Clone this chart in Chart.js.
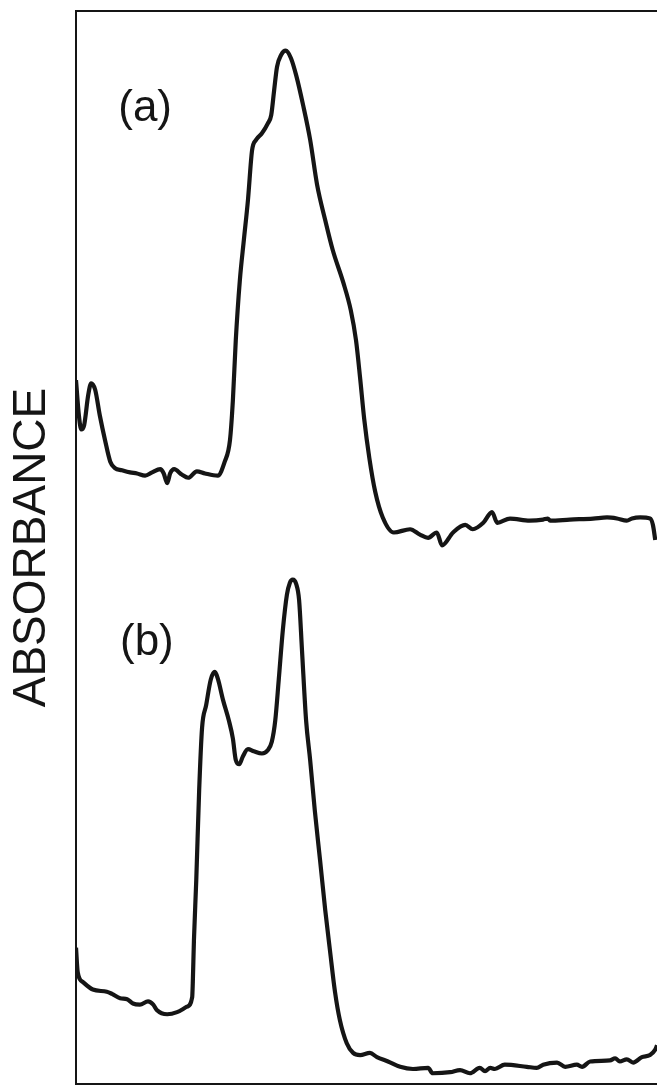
<!DOCTYPE html>
<html>
<head>
<meta charset="utf-8">
<script src="https://cdn.jsdelivr.net/npm/chart.js@4.4.1/dist/chart.umd.min.js"></script>
<style>
  html, body { margin: 0; padding: 0; background: #fff; }
  #wrap { width: 657px; height: 1086px; position: relative; }
</style>
</head>
<body>
<div id="wrap"><canvas id="chart"></canvas></div>
<script>
// =========================
// データ（横軸: 0〜100 の相対位置, 縦軸: 0〜100 の相対吸光度）
// =========================
const yTitle = "ABSORBANCE";
const panelLabels = ["(a)", "(b)"];

// (a) の曲線
const xA = [0, 0.5, 0.9, 1.4, 2.1, 2.6, 3.3, 4.1, 5.0, 5.9, 6.7, 7.9, 9.3, 10.5, 11.9, 13.1, 14.5, 15.1, 15.7, 16.2,
  16.9, 18.2, 19.3, 20.8, 22.2, 24.4, 25.6, 26.5, 27.0, 27.5, 28.2, 28.9, 29.6, 30.3, 31.0, 32.0, 33.0, 33.6, 34.1, 34.6,
  35.3, 36.1, 37.0, 37.9, 39.1, 40.3, 41.5, 42.9, 44.2, 46.0, 47.3, 48.2, 48.9, 49.6, 50.5, 51.5, 52.8, 54.7, 57.5, 59.2,
  60.6, 62.1, 63.0, 64.9, 67.0, 68.3, 70.1, 71.6, 72.5, 74.7, 78.1, 80.4, 81.2, 81.6, 85.0, 89.0, 91.4, 93.1, 94.8, 95.7,
  97.1, 98.8, 99.3, 99.7];
const yA = [65.6, 62.3, 61.0, 61.4, 64.2, 65.3, 64.7, 62.3, 60.0, 58.0, 57.4, 57.2, 57.0, 56.9, 56.7, 57.0, 57.3, 56.9, 56.0, 56.9,
  57.3, 56.8, 56.5, 57.1, 56.9, 56.7, 58.0, 60.0, 63.7, 69.3, 74.9, 78.7, 82.4, 87.0, 88.0, 88.6, 89.5, 90.3, 92.6, 94.8,
  95.9, 96.3, 95.6, 94.0, 91.2, 88.0, 83.8, 80.5, 77.7, 74.7, 72.1, 69.3, 65.8, 62.0, 58.3, 55.2, 52.8, 51.4, 51.7, 51.2,
  50.9, 51.4, 50.2, 51.4, 52.1, 51.7, 52.3, 53.3, 52.3, 52.7, 52.5, 52.6, 52.7, 52.5, 52.6, 52.7, 52.8, 52.7, 52.5, 52.7,
  52.8, 52.7, 52.1, 50.7];

// (b) の曲線
const xB = [0, 0.3, 1.2, 2.9, 5.3, 6.2, 7.6, 8.8, 9.8, 11.0, 12.4, 13.3, 13.9, 15.7, 17.4, 19.1, 20.0, 20.1, 20.3, 20.7,
  21.2, 21.7, 22.4, 23.2, 23.9, 24.4, 25.3, 26.3, 27.0, 27.5, 28.1, 28.7, 29.6, 30.6, 32.0, 33.0, 33.7, 34.3, 34.9, 35.6,
  36.3, 36.8, 37.3, 37.9, 38.4, 38.9, 39.6, 40.3, 41.1, 42.0, 42.9, 43.7, 44.6, 45.4, 46.6, 47.7, 48.9, 50.6, 51.8, 53.7,
  55.8, 58.0, 60.6, 61.4, 64.4, 66.1, 67.8, 69.5, 70.4, 71.3, 72.1, 73.8, 77.6, 79.3, 80.4, 82.8, 84.2, 86.2, 87.1, 88.5,
  91.9, 92.8, 93.6, 94.8, 95.9, 97.4, 98.8, 99.7, 100];
const yB = [12.7, 10.4, 9.5, 8.8, 8.6, 8.4, 8.0, 7.9, 7.5, 7.4, 7.7, 7.4, 6.9, 6.5, 6.7, 7.2, 8.1, 9.4, 13.4, 19.0,
  27.4, 33.2, 35.3, 37.7, 38.4, 37.8, 35.8, 33.9, 32.2, 30.2, 29.8, 30.5, 31.2, 31.0, 30.8, 31.1, 31.9, 33.9, 37.7, 42.3,
  45.6, 46.7, 47.0, 46.6, 45.1, 40.4, 33.9, 30.2, 25.5, 20.9, 16.2, 12.5, 8.5, 6.0, 3.8, 2.9, 2.7, 2.9, 2.5, 2.1,
  1.6, 1.4, 1.5, 1.0, 1.1, 1.3, 1.0, 1.5, 1.2, 1.5, 1.4, 1.8, 1.6, 1.5, 1.8, 2.0, 1.6, 1.8, 1.6, 2.1,
  2.2, 2.4, 2.1, 2.3, 2.0, 2.5, 2.7, 3.2, 3.6];

// ラベル位置（データ座標）
const labelAt = [[11.9, 90.9], [12.2, 41.1]];

const ink = "#151515";
const toPoints = (xs, ys) => xs.map((x, i) => ({ x: x, y: ys[i] }));

// (a)(b) を書くだけのプラグイン
const panelLabelPlugin = {
  id: "panelLabels",
  afterDatasetsDraw(chart) {
    const { ctx, scales } = chart;
    ctx.save();
    ctx.fillStyle = ink;
    ctx.font = "300 44px 'Liberation Sans', Arial, sans-serif";
    ctx.textAlign = "center";
    ctx.textBaseline = "middle";
    panelLabels.forEach((t, i) => {
      ctx.fillText(t, scales.x.getPixelForValue(labelAt[i][0]), scales.y.getPixelForValue(labelAt[i][1]));
    });
    ctx.restore();
  }
};

const lineStyle = {
  showLine: true,
  borderColor: ink,
  borderWidth: 4.2,
  pointRadius: 0,
  cubicInterpolationMode: "monotone",
  fill: false
};

const hiddenAxis = {
  ticks: { display: false },
  grid: { display: false, drawTicks: false },
  border: { display: true, color: ink, width: 2 }
};

new Chart(document.getElementById("chart"), {
  type: "scatter",
  data: {
    datasets: [
      Object.assign({ label: "(a)", data: toPoints(xA, yA) }, lineStyle),
      Object.assign({ label: "(b)", data: toPoints(xB, yB) }, lineStyle)
    ]
  },
  options: {
    responsive: true,
    maintainAspectRatio: false,
    animation: false,
    devicePixelRatio: 1,
    layout: { padding: { left: 9, top: 11, right: 0, bottom: 2 } },
    plugins: { legend: { display: false }, tooltip: { enabled: false } },
    scales: {
      x: Object.assign({ type: "linear", position: "bottom", min: 0, max: 100 }, hiddenAxis),
      xTop: Object.assign({ type: "linear", position: "top", min: 0, max: 100 }, hiddenAxis),
      y: Object.assign({
        type: "linear", position: "left", min: 0, max: 100,
        title: {
          display: true,
          text: yTitle,
          color: ink,
          font: { family: "'Liberation Sans', Arial, sans-serif", size: 46, lineHeight: 1 },
          padding: { top: 0, bottom: 21 }
        }
      }, hiddenAxis)
    }
  },
  plugins: [panelLabelPlugin]
});
</script>
</body>
</html>
